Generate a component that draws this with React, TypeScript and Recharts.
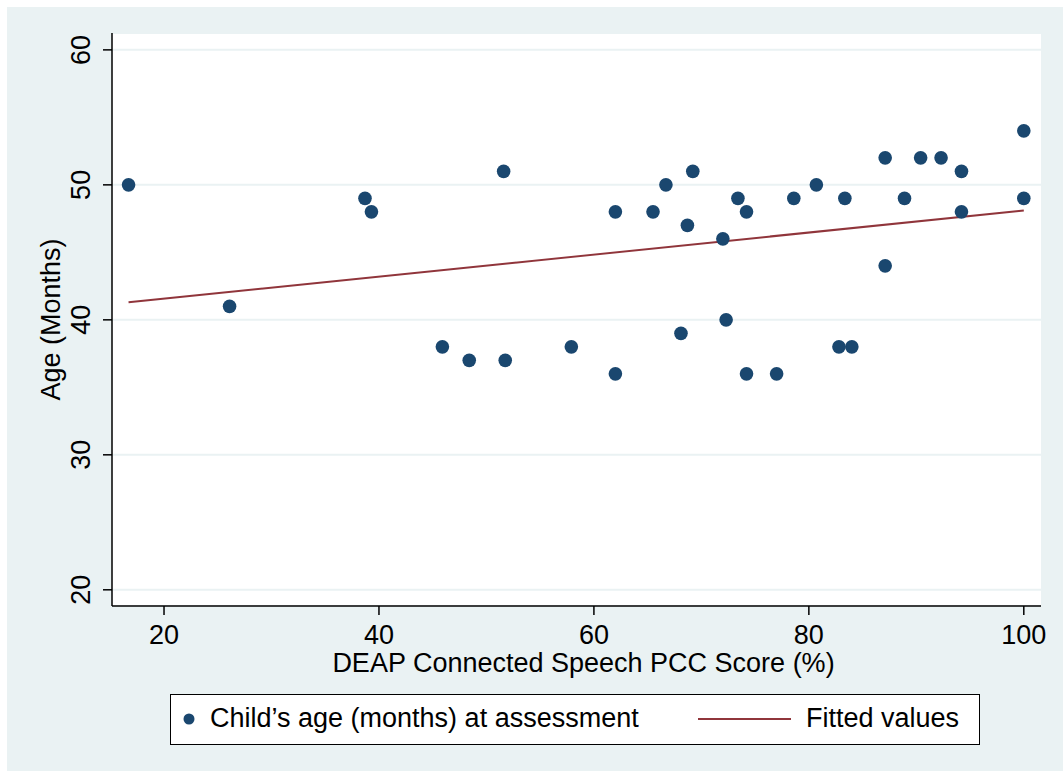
import React from 'react';
import { ComposedChart, Scatter, Line, XAxis, YAxis, CartesianGrid, Legend } from 'recharts';

// PCC score (%) and child's age (months), one entry per child
const pccScore = [16.7, 26.1, 38.7, 39.3, 45.9, 48.4, 51.6, 51.75, 57.9, 62.0, 62.0, 65.5, 66.7, 68.1, 68.7, 69.2, 72.0, 72.3, 73.4, 74.2, 74.2, 77.0, 78.6, 80.7, 82.8, 83.35, 84.0, 87.1, 87.1, 88.9, 90.4, 92.3, 94.2, 94.2, 100, 100];
const ageMonths = [50, 41, 49, 48, 38, 37, 51, 37, 38, 36, 48, 48, 50, 39, 47, 51, 46, 40, 49, 36, 48, 36, 49, 50, 38, 49, 38, 52, 44, 49, 52, 52, 51, 48, 54, 49];

// fitted regression line endpoints
const fitX = [16.7, 100];
const fitY = [41.3, 48.1];

const xTicks = [20, 40, 60, 80, 100];
const yTicks = [20, 30, 40, 50, 60];

const scatterData = pccScore.map((x, i) => ({ x, y: ageMonths[i] }));
const fitData = fitX.map((x, i) => ({ x, y: fitY[i] }));

const FONT = '"Liberation Sans", Arial, Helvetica, sans-serif';
const FS = 27;
const NAVY = '#1a476f';
const MAROON = '#90353b';
const BG = '#eaf2f3';

const YTick = (props: any) => {
  const { y, payload } = props;
  const bx = 83;
  return (
    <text
      x={bx}
      y={y}
      transform={`rotate(-90 ${bx} ${y})`}
      textAnchor="middle"
      fontSize={FS}
      fontFamily={FONT}
      fill="#000"
    >
      {payload.value}
    </text>
  );
};

const renderLegend = () => (
  <div
    style={{
      boxSizing: 'border-box',
      width: 810,
      height: 51,
      background: '#fff',
      border: '1.5px solid #000',
      position: 'relative',
      fontFamily: FONT,
      fontSize: FS,
      color: '#000',
    }}
  >
    <svg width={810} height={48} style={{ position: 'absolute', left: 0, top: 0 }}>
      <circle cx={18} cy={24} r={5.5} fill={NAVY} />
      <line x1={527} y1={24} x2={620} y2={24} stroke={MAROON} strokeWidth={2} />
    </svg>
    <span style={{ position: 'absolute', left: 39, top: 8, lineHeight: '30px' }}>
      Child’s age (months) at assessment
    </span>
    <span style={{ position: 'absolute', left: 635, top: 8, lineHeight: '30px' }}>
      Fitted values
    </span>
  </div>
);

export default function App() {
  return (
    <div style={{ position: 'fixed', left: 7, top: 7, width: 1056, height: 764, background: BG }}>
      <ComposedChart
        width={1056}
        height={764}
        margin={{ top: 26, right: 22, bottom: 26, left: 40 }}
        style={{ fontFamily: FONT }}
      >
        <CartesianGrid vertical={false} stroke={BG} strokeWidth={2} fill="#fff" fillOpacity={1} />
        <XAxis
          dataKey="x"
          type="number"
          domain={[15.16, 101.6]}
          ticks={xTicks}
          allowDataOverflow
          height={88}
          tickSize={9}
          tickMargin={10}
          axisLine={{ stroke: '#000', strokeWidth: 1.5 }}
          tickLine={{ stroke: '#000', strokeWidth: 1.5 }}
          tick={{ fill: '#000', fontSize: FS, fontFamily: FONT }}
          label={{
            content: (p: any) => {
              const vb = p.viewBox;
              return (
                <text x={vb.x + vb.width / 2 + 7} y={665} textAnchor="middle" fontSize={FS} fontFamily={FONT} fill="#000">
                  DEAP Connected Speech PCC Score (%)
                </text>
              );
            },
          }}
        />
        <YAxis
          dataKey="y"
          type="number"
          domain={[18.8, 61.25]}
          ticks={yTicks}
          allowDataOverflow
          width={65}
          tickSize={9}
          axisLine={{ stroke: '#000', strokeWidth: 1.5 }}
          tickLine={{ stroke: '#000', strokeWidth: 1.5 }}
          tick={<YTick />}
          label={{
            content: (p: any) => {
              const vb = p.viewBox;
              const cy = vb.y + vb.height / 2;
              return (
                <text x={53} y={cy} transform={`rotate(-90 53 ${cy})`} textAnchor="middle" fontSize={FS} fontFamily={FONT} fill="#000">
                  Age (Months)
                </text>
              );
            },
          }}
        />
        <Legend
          verticalAlign="bottom"
          content={renderLegend}
          wrapperStyle={{ left: 163, width: 810, bottom: 26 }}
        />
        <Scatter
          name="Child’s age (months) at assessment"
          data={scatterData}
          dataKey="y"
          isAnimationActive={false}
          shape={(p: any) => <circle cx={p.cx} cy={p.cy} r={6.8} fill={NAVY} />}
        />
        <Line
          name="Fitted values"
          data={fitData}
          dataKey="y"
          type="linear"
          stroke={MAROON}
          strokeWidth={2}
          dot={false}
          activeDot={false}
          isAnimationActive={false}
        />
      </ComposedChart>
    </div>
  );
}
